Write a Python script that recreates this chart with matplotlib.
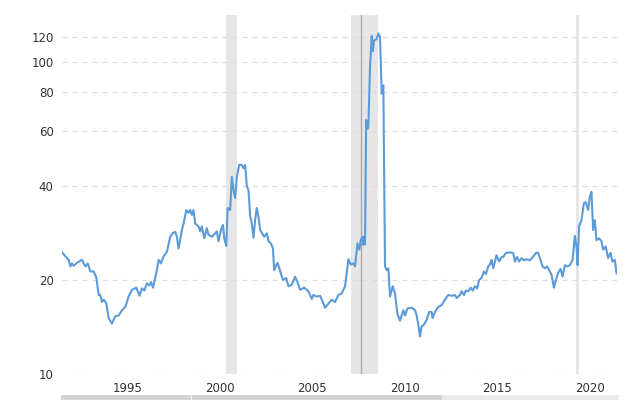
import matplotlib
matplotlib.use("Agg")
import matplotlib.pyplot as plt
from matplotlib.patches import Rectangle
from matplotlib.ticker import FixedLocator, FixedFormatter, NullLocator

# values (decimal year, ratio)
years = [1991.47, 1991.83, 1991.92, 1992.01, 1992.10, 1992.28, 1992.55, 1992.64, 1992.73, 1992.86,
         1993.00, 1993.18, 1993.33, 1993.45, 1993.54, 1993.63, 1993.72, 1993.87, 1993.99, 1994.17,
         1994.35, 1994.53, 1994.71, 1994.89, 1995.07, 1995.25, 1995.49, 1995.66, 1995.79, 1995.92,
         1996.06, 1996.20, 1996.28, 1996.39, 1996.60, 1996.69, 1996.82, 1996.96, 1997.14, 1997.32,
         1997.47, 1997.59, 1997.68, 1997.77, 1997.95, 1998.04, 1998.19, 1998.31, 1998.40, 1998.49,
         1998.58, 1998.67, 1998.85, 1998.94, 1999.03, 1999.16, 1999.30, 1999.39, 1999.57, 1999.75,
         1999.84, 1999.93, 2000.06, 2000.17, 2000.24, 2000.35, 2000.42, 2000.56, 2000.65, 2000.74,
         2000.83, 2000.92, 2001.05, 2001.19, 2001.28, 2001.37, 2001.46, 2001.55, 2001.64, 2001.73,
         2001.82, 2001.91, 2002.00, 2002.09, 2002.18, 2002.27, 2002.40, 2002.54, 2002.63, 2002.76,
         2002.87, 2002.94, 2003.12, 2003.22, 2003.41, 2003.59, 2003.71, 2003.89, 2004.07, 2004.20,
         2004.34, 2004.56, 2004.79, 2004.97, 2005.06, 2005.24, 2005.42, 2005.57, 2005.69, 2005.87,
         2006.05, 2006.23, 2006.41, 2006.59, 2006.77, 2006.86, 2006.95, 2007.08, 2007.22, 2007.31,
         2007.44, 2007.54, 2007.62, 2007.71, 2007.76, 2007.82, 2007.85, 2007.91, 2007.98, 2008.03,
         2008.12, 2008.21, 2008.27, 2008.34, 2008.48, 2008.57, 2008.66, 2008.75, 2008.84, 2008.93,
         2009.02, 2009.11, 2009.20, 2009.35, 2009.47, 2009.60, 2009.74, 2009.83, 2009.92, 2010.01,
         2010.14, 2010.37, 2010.55, 2010.64, 2010.73, 2010.82, 2010.91, 2011.04, 2011.18, 2011.32,
         2011.45, 2011.50, 2011.63, 2011.81, 2011.99, 2012.17, 2012.35, 2012.53, 2012.71, 2012.80,
         2012.98, 2013.07, 2013.20, 2013.30, 2013.43, 2013.56, 2013.67, 2013.79, 2013.91, 2014.02,
         2014.15, 2014.28, 2014.38, 2014.51, 2014.60, 2014.69, 2014.78, 2014.87, 2014.96, 2015.10,
         2015.23, 2015.32, 2015.46, 2015.68, 2015.86, 2015.95, 2016.07, 2016.18, 2016.31, 2016.44,
         2016.58, 2016.76, 2016.94, 2017.12, 2017.21, 2017.30, 2017.45, 2017.57, 2017.69, 2017.80,
         2017.93, 2018.06, 2018.17, 2018.29, 2018.42, 2018.53, 2018.65, 2018.78, 2018.92, 2019.07,
         2019.19, 2019.28, 2019.34, 2019.42, 2019.55, 2019.68, 2019.78, 2019.91, 2020.00, 2020.09,
         2020.18, 2020.27, 2020.36, 2020.50, 2020.63, 2020.72, 2020.86, 2020.99, 2021.12, 2021.22,
         2021.35, 2021.45]
ratio = [24.5, 23.2, 22.1, 22.6, 22.2, 22.7, 23.2, 22.6, 22.1, 22.6,
         21.3, 21.3, 20.3, 17.9, 17.9, 17.0, 17.3, 16.8, 15.1, 14.5,
         15.3, 15.4, 16.0, 16.4, 17.7, 18.6, 18.9, 17.8, 18.8, 18.5,
         19.5, 19.2, 19.7, 18.9, 21.5, 23.2, 22.6, 23.8, 24.6, 27.5,
         28.3, 28.5, 27.5, 25.2, 28.9, 30.3, 33.5, 32.8, 33.5, 32.3,
         33.5, 30.3, 29.7, 28.6, 29.7, 27.2, 29.3, 27.9, 27.5, 28.2,
         28.6, 26.6, 28.9, 30.0, 27.2, 25.7, 34.0, 33.5, 42.8, 38.8,
         36.6, 42.8, 46.7, 46.7, 45.6, 46.7, 39.9, 38.8, 32.0, 30.3,
         27.3, 31.1, 34.0, 31.9, 28.9, 28.3, 27.5, 28.2, 26.6, 26.2,
         25.3, 21.5, 22.7, 21.8, 20.0, 20.3, 19.1, 19.3, 20.5, 19.7,
         18.6, 18.9, 18.4, 17.4, 17.9, 17.7, 17.8, 17.0, 16.3, 16.8,
         17.3, 17.0, 17.9, 18.1, 19.1, 21.0, 23.3, 22.4, 22.6, 22.1,
         26.2, 25.0, 26.8, 27.5, 25.9, 27.5, 26.0, 65.0, 61.0, 62.0,
         96.0, 121.0, 108.0, 117.0, 118.0, 123.0, 120.0, 79.0, 84.0, 22.1,
         21.5, 21.8, 17.7, 19.1, 18.1, 15.6, 14.8, 15.4, 16.0, 15.4,
         16.2, 16.3, 16.0, 15.4, 14.4, 13.2, 14.2, 14.4, 14.9, 15.8,
         15.8, 15.1, 15.8, 16.4, 16.6, 17.3, 17.9, 17.8, 17.9, 17.5,
         17.9, 18.4, 17.9, 18.5, 18.4, 18.9, 18.5, 19.1, 18.8, 20.0,
         20.3, 21.3, 20.9, 22.1, 22.4, 23.2, 21.8, 22.9, 24.0, 22.9,
         23.7, 23.7, 24.4, 24.5, 24.4, 22.9, 23.7, 22.9, 23.5, 23.1,
         23.3, 23.1, 23.8, 24.5, 24.4, 23.5, 22.1, 21.8, 22.1, 21.5,
         20.8, 18.9, 20.0, 21.1, 21.7, 20.5, 22.3, 22.1, 22.3, 23.2,
         27.7, 25.5, 22.3, 29.7, 31.1, 35.2, 35.5, 33.5, 36.9, 38.3,
         28.9, 31.1, 26.8, 27.2, 26.6, 25.0, 25.6, 23.5, 24.4, 22.9,
         23.2, 21.0]

recessions = [(2000.33, 2000.94), (2007.08, 2008.57), (2019.23, 2019.41)]
marker_year = 2007.62

yticks = [10, 20, 40, 60, 80, 100, 120]
xticks = [1995, 2000, 2005, 2010, 2015, 2020]

fig = plt.figure(figsize=(6.42, 4.0), dpi=100)
ax = fig.add_axes([62 / 642, 1 - 374 / 400, 555 / 642, 359 / 400])

for a, b in recessions:
    ax.axvspan(a, b, color="#e6e6e6", lw=0, zorder=0)
ax.axvline(marker_year, color="#aaaaaa", lw=1, zorder=1)

ax.plot(years, ratio, color="#5b9bd9", lw=1.5, zorder=3)

ax.set_yscale("log")
ax.set_ylim(10, 141)
ax.set_xlim(1991.47, 2021.47)
ax.yaxis.set_major_locator(FixedLocator(yticks))
ax.yaxis.set_major_formatter(FixedFormatter([str(t) for t in yticks]))
ax.yaxis.set_minor_locator(NullLocator())
ax.set_xticks(xticks)
ax.set_xticklabels([str(t) for t in xticks])

for t in yticks:
    ax.axhline(t, color="#dddddd", lw=0.9, ls=(0, (4, 4)), zorder=0.5)

for s in ax.spines.values():
    s.set_visible(False)
ax.tick_params(axis="both", length=0, labelsize=8.5, labelcolor="#333333")
ax.tick_params(axis="y", pad=6)
ax.tick_params(axis="x", pad=6)

# navigator strip at the bottom
fig.patches.append(Rectangle((61 / 642, 0), (442 - 61) / 642, 5 / 400,
                             transform=fig.transFigure, color="#d4d4d4", lw=0))
fig.patches.append(Rectangle((442 / 642, 0), (619 - 442) / 642, 5 / 400,
                             transform=fig.transFigure, color="#e9e9e9", lw=0))
for xd in (191, 486):
    fig.patches.append(Rectangle((xd / 642, 0), 1 / 642, 5 / 400,
                                 transform=fig.transFigure, color="#f2f2f2", lw=0))

fig.savefig("out.png", dpi=100)
